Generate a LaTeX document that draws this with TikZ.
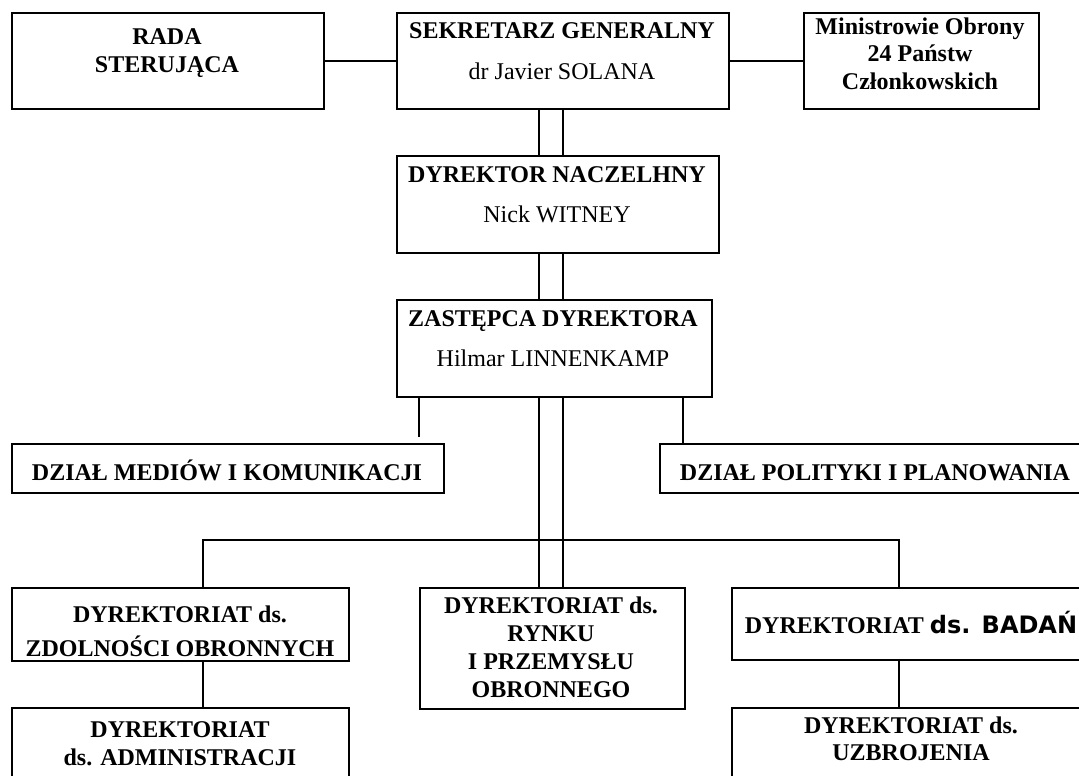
\documentclass[tikz,border=0pt]{standalone}
\usepackage{fontspec}
\setmainfont{Liberation Serif}
\newfontfamily\verdana{DejaVu Sans}
\tikzset{
  box/.style={draw,line width=2pt,inner sep=0pt,anchor=north west},
  head/.style={anchor=base,inner sep=0pt,font=\bfseries},
  person/.style={anchor=base,inner sep=0pt},
  link/.style={line width=1.5pt}
}

\begin{document}
\fontsize{24}{28}\selectfont
\begin{tikzpicture}[x=1pt,y=-1pt]

    % -- Page frame (boxes on the right run off the page) --
    \useasboundingbox (0,0) rectangle (1079,776);
    \clip (0,0) rectangle (1079,776);

    % -- Top row --
    \node[box,minimum width=312pt,minimum height=96pt] (rada) at (11,12) {};
    \node[box,minimum width=332pt,minimum height=96pt] (sek) at (396,12) {};
    \node[box,minimum width=235pt,minimum height=96pt] (min) at (803,12) {};

    % -- Main column --
    \node[box,minimum width=322pt,minimum height=97pt] (dyr) at (396,155) {};
    \node[box,minimum width=315pt,minimum height=97pt] (zas) at (396,299) {};

    % -- Departments --
    \node[box,minimum width=432pt,minimum height=49pt] (med) at (11,443) {};
    \node[box,minimum width=432pt,minimum height=49pt] (pol) at (659,443) {};

    % -- Directorates --
    \node[box,minimum width=337pt,minimum height=73pt] (zdol) at (11,587) {};
    \node[box,minimum width=265pt,minimum height=121pt] (ryn) at (419,587) {};
    \node[box,minimum width=360pt,minimum height=72pt] (bad) at (731,587) {};
    \node[box,minimum width=337pt,minimum height=100pt] (adm) at (11,707) {};
    \node[box,minimum width=360pt,minimum height=100pt] (uzb) at (731,707) {};

    % -- Texts --
    \node[head] (rada-1) at (167,45) {RADA};
    \node[head] (rada-2) at (167,73) {STERUJĄCA};
    \node[head] (sek-1) at (562,39) {SEKRETARZ GENERALNY};
    \node[person] (sek-2) at (562,79) {dr Javier SOLANA};
    \node[head] (min-1) at (920,35) {Ministrowie Obrony};
    \node[head] (min-2) at (920,62) {24 Państw};
    \node[head] (min-3) at (920,89) {Członkowskich};
    \node[head] (dyr-1) at (557,182) {DYREKTOR NACZELHNY};
    \node[person] (dyr-2) at (557,222) {Nick WITNEY};
    \node[head] (zas-1) at (553,326) {ZASTĘPCA DYREKTORA};
    \node[person] (zas-2) at (553,366) {Hilmar LINNENKAMP};
    \node[head] (med-1) at (227,480) {DZIAŁ MEDIÓW I KOMUNIKACJI};
    \node[head] (pol-1) at (875,480) {DZIAŁ POLITYKI I PLANOWANIA};
    \node[head] (zdol-1) at (180,622) {DYREKTORIAT ds.};
    \node[head] (zdol-2) at (180,656) {ZDOLNOŚCI OBRONNYCH};
    \node[head] (ryn-1) at (551,613) {DYREKTORIAT ds.};
    \node[head] (ryn-2) at (551,641) {RYNKU};
    \node[head] (ryn-3) at (551,669) {I PRZEMYSŁU};
    \node[head] (ryn-4) at (551,697) {OBRONNEGO};
    \node[head] (bad-1) at (911,633) {DYREKTORIAT {\verdana ds. BADAŃ}};
    \node[head] (adm-1) at (180,737) {DYREKTORIAT};
    \node[head] (adm-2) at (180,765) {ds. ADMINISTRACJI};
    \node[head] (uzb-1) at (911,733) {DYREKTORIAT ds.};
    \node[head] (uzb-2) at (911,760) {UZBROJENIA};

    % -- Side links of the top row --
    \draw[link] (rada.east) -- (sek.west);
    \draw[link] (sek.east) -- (min.west);

    % -- Double line down the main column --
    \coordinate (dl) at (539,0);
    \coordinate (dr) at (563,0);
    \foreach \a/\b in {sek/dyr,dyr/zas,zas/ryn}{
      \draw[link] (\a.south -| dl) -- (\b.north -| dl);
      \draw[link] (\a.south -| dr) -- (\b.north -| dr);
    }

    % -- Links to the departments --
    \coordinate (medtop) at (419,437);
    \coordinate (polx) at (683,0);
    \draw[link] (zas.south -| medtop) -- (medtop);
    \draw[link] (zas.south -| polx) -- (pol.north -| polx);

    % -- Bar over the directorates --
    \coordinate (bl) at (203,540);
    \coordinate (br) at (899,540);
    \draw[link] (zdol.north -| bl) -- (bl) -- (br) -- (bad.north -| br);
    \draw[link] (zdol.south -| bl) -- (adm.north -| bl);
    \draw[link] (bad.south -| br) -- (uzb.north -| br);

\end{tikzpicture}
\end{document}
